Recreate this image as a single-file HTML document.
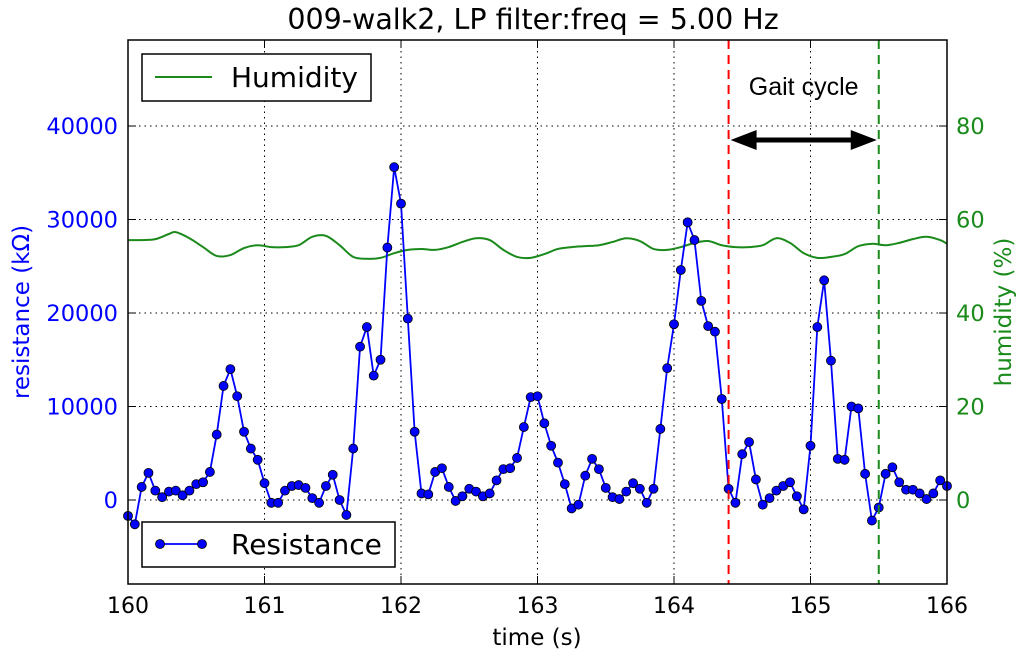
<!DOCTYPE html>
<html><head><meta charset="utf-8"><style>
body{margin:0;background:#fff;}
svg text{font-family:"DejaVu Sans","Liberation Sans",sans-serif;}
</style></head><body>
<svg id="chart" width="1024" height="658" xmlns="http://www.w3.org/2000/svg"></svg>
<script>
const resValues=[-1700,-2600,1400,2900,1000,300,900,1000,500,1000,1700,1900,3000,7000,12200,14000,11100,7300,5500,4300,1800,-300,-300,1000,1500,1600,1300,200,-300,1500,2700,0,-1600,5500,16400,18500,13300,15000,27000,35600,31700,19400,7300,700,600,3000,3400,1400,-100,400,1200,900,400,700,2100,3300,3400,4500,7800,11000,11100,8200,5800,4000,1700,-900,-500,2600,4400,3300,1300,300,100,900,1800,1200,-300,1200,7600,14100,18800,24600,29700,27800,21300,18600,18000,10800,1200,-300,4900,6200,2200,-500,200,1000,1500,1900,400,-1000,5800,18500,23500,14900,4400,4300,10000,9800,2800,-2200,-800,2800,3500,1900,1100,1100,700,100,700,2100,1500];
const tStart=160, tEnd=166;
const humTimes=[160,160.1,160.2,160.3,160.35,160.45,160.55,160.65,160.75,160.85,160.95,161.05,161.15,161.25,161.35,161.45,161.55,161.65,161.75,161.85,161.95,162.05,162.15,162.25,162.35,162.45,162.55,162.65,162.75,162.85,162.95,163.05,163.15,163.25,163.35,163.45,163.55,163.65,163.75,163.85,163.95,164.05,164.15,164.25,164.35,164.45,164.55,164.65,164.75,164.85,164.95,165.05,165.15,165.25,165.35,165.45,165.55,165.65,165.75,165.85,165.95,166];
const humValues=[55.6,55.6,55.8,56.9,57.3,56.0,54.1,52.2,52.4,53.9,54.5,54.1,54.1,54.5,56.3,56.5,54.5,52.0,51.6,51.8,52.8,53.5,53.7,53.5,54.1,55.2,56.0,55.6,53.5,52.0,51.8,52.6,53.7,54.1,54.3,54.5,55.2,56.0,55.4,53.7,53.5,54.1,55.0,55.4,54.5,54.1,54.1,54.5,56.0,55.0,52.8,51.8,52.0,52.6,54.3,54.8,54.5,55.0,55.8,56.3,55.6,54.8];
const xTicks=[160,161,162,163,164,165,166];
const yLeftTicks=[0,10000,20000,30000,40000];
const yRightTicks=[0,20,40,60,80];
const gaitStart=164.4, gaitEnd=165.5;

const L=128,R=947,T=40,B=584;
const yL0=-8984,yL1=49200;
const yR0=-17.97,yR1=98.4;
const X=t=>L+(t-tStart)/(tEnd-tStart)*(R-L);
const YL=v=>B-(v-yL0)/(yL1-yL0)*(B-T);
const YR=v=>B-(v-yR0)/(yR1-yR0)*(B-T);
const svg=document.getElementById('chart');
const NS='http://www.w3.org/2000/svg';
function mk(tag,attrs,parent){const e=document.createElementNS(NS,tag);for(const k in attrs)e.setAttribute(k,attrs[k]);(parent||svg).appendChild(e);return e;}
function txt(s,attrs){const e=mk('text',attrs);e.textContent=s;return e;}

xTicks.forEach(t=>{const g=mk('line',{x1:X(t),x2:X(t),y1:T,y2:B,stroke:'#000','stroke-dasharray':'1.5,4','stroke-width':1});

});
yLeftTicks.forEach(v=>{const g=mk('line',{x1:L,x2:R,y1:YL(v),y2:YL(v),stroke:'#000','stroke-dasharray':'1.5,4','stroke-width':1});

});

const hpts=humTimes.map((t,i)=>[X(t),YR(humValues[i])]);
let d='M'+hpts[0][0]+','+hpts[0][1];
for(let i=0;i<hpts.length-1;i++){
  const p0=hpts[Math.max(0,i-1)],p1=hpts[i],p2=hpts[i+1],p3=hpts[Math.min(hpts.length-1,i+2)];
  const c1=[p1[0]+(p2[0]-p0[0])/6,p1[1]+(p2[1]-p0[1])/6];
  const c2=[p2[0]-(p3[0]-p1[0])/6,p2[1]-(p3[1]-p1[1])/6];
  d+=` C${c1[0]},${c1[1]} ${c2[0]},${c2[1]} ${p2[0]},${p2[1]}`;
}
const hp=mk('path',{d:d,fill:'none',stroke:'#1a8a1a','stroke-width':2});



const n=resValues.length;
const rt=i=>tStart+i*(tEnd-tStart)/(n-1);
const rp=mk('polyline',{points:resValues.map((v,i)=>X(rt(i))+','+YL(v)).join(' '),fill:'none',stroke:'#0000ff','stroke-width':1.8});


resValues.forEach((v,i)=>{const c=mk('circle',{cx:X(rt(i)),cy:YL(v),r:4.5,fill:'#0000ff',stroke:'#000','stroke-width':0.8});

});

const g1=mk('line',{x1:X(gaitStart),x2:X(gaitStart),y1:T,y2:B,stroke:'#ff0000','stroke-width':2,'stroke-dasharray':'9,6'});


const g2=mk('line',{x1:X(gaitEnd),x2:X(gaitEnd),y1:T,y2:B,stroke:'#1a8a1a','stroke-width':2,'stroke-dasharray':'9,6'});


const ax1=X(gaitStart)+2,ax2=X(gaitEnd)-2,ay=140;
const ar=mk('g',{});


mk('line',{x1:ax1+20,x2:ax2-20,y1:ay,y2:ay,stroke:'#000','stroke-width':5},ar);
mk('polygon',{points:`${ax1},${ay} ${ax1+26},${ay-10} ${ax1+26},${ay+10}`,fill:'#000'},ar);
mk('polygon',{points:`${ax2},${ay} ${ax2-26},${ay-10} ${ax2-26},${ay+10}`,fill:'#000'},ar);
const gt=txt('Gait cycle',{x:(ax1+ax2)/2,y:95,'text-anchor':'middle','font-size':25,fill:'#000',style:'font-family:"Liberation Sans",sans-serif'});



const fr=mk('rect',{x:L,y:T,width:R-L,height:B-T,fill:'none',stroke:'#000','stroke-width':1.5});



xTicks.forEach(t=>{mk('line',{x1:X(t),x2:X(t),y1:B,y2:B-8,stroke:'#000'});mk('line',{x1:X(t),x2:X(t),y1:T,y2:T+8,stroke:'#000'});
const l=txt(String(t),{x:X(t),y:613,'text-anchor':'middle','font-size':22,fill:'#000'});

});
yLeftTicks.forEach(v=>{mk('line',{x1:L,x2:L+8,y1:YL(v),y2:YL(v),stroke:'#000'});
const l=txt(String(v),{x:118,y:YL(v)+8,'text-anchor':'end','font-size':22.5,fill:'#0000ff'});

});
yRightTicks.forEach(v=>{mk('line',{x1:R-8,x2:R,y1:YR(v),y2:YR(v),stroke:'#000'});
const l=txt(String(v),{x:956,y:YR(v)+8,'font-size':22.5,fill:'#1a8a1a'});

});
</script>
<svg width="1024" height="658" style="position:absolute;left:0;top:0" xmlns="http://www.w3.org/2000/svg">
<text x="533" y="29" text-anchor="middle" font-size="28.5">009-walk2, LP filter:freq = 5.00 Hz</text>
<text x="537" y="645" text-anchor="middle" font-size="23">time (s)</text>
<text transform="translate(29,312) rotate(-90)" text-anchor="middle" font-size="23" fill="#0000ff">resistance (kΩ)</text>
<text transform="translate(1011,312) rotate(-90)" text-anchor="middle" font-size="23" fill="#1a8a1a">humidity (%)</text>
<g>
<rect x="142" y="54" width="229" height="47" fill="#fff" stroke="#000" stroke-width="1.5"/>
<line x1="155" x2="212" y1="77" y2="77" stroke="#1a8a1a" stroke-width="2"/>
<text x="231" y="87" font-size="28">Humidity</text>
</g>
<g>
<rect x="142" y="522" width="253" height="45" fill="#fff" stroke="#000" stroke-width="1.5"/>
<line x1="160" x2="202" y1="544" y2="544" stroke="#0000ff" stroke-width="1.8"/>
<circle cx="160" cy="544" r="4.5" fill="#0000ff" stroke="#000" stroke-width="0.8"/>
<circle cx="202" cy="544" r="4.5" fill="#0000ff" stroke="#000" stroke-width="0.8"/>
<text x="231" y="554" font-size="28">Resistance</text>
</g>
</svg>
</body></html>
